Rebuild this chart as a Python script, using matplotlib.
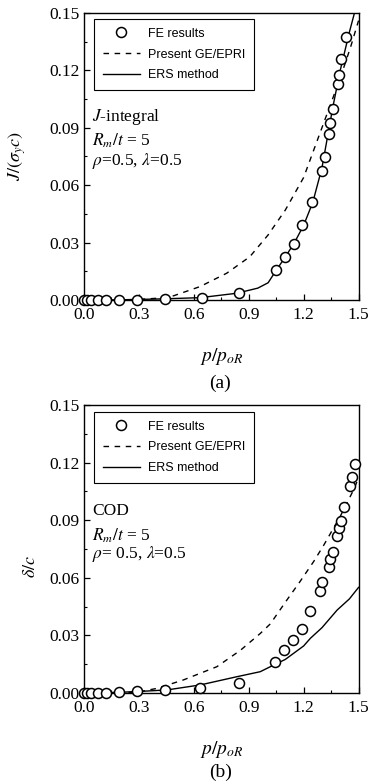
import matplotlib
matplotlib.use("Agg")
import matplotlib.pyplot as plt
import matplotlib.ticker as ticker

# --- data ---
# (a) J-integral
j_fe_x = [0.0, 0.017, 0.039, 0.075, 0.122, 0.19, 0.29, 0.44, 0.643, 0.847,
          1.048, 1.097, 1.146, 1.193, 1.248, 1.298, 1.315, 1.338, 1.345, 1.36,
          1.387, 1.396, 1.405, 1.433]
j_fe_y = [0.0, 0.0, 0.0, 0.0, 0.0, 0.0, 0.0001, 0.0003, 0.0008, 0.0035,
          0.0155, 0.0225, 0.0294, 0.039, 0.0512, 0.0676, 0.0746, 0.087, 0.0924, 0.100,
          0.1127, 0.1176, 0.126, 0.1377]

j_gep_x = [0.0, 0.2, 0.3, 0.4, 0.49, 0.634, 0.78, 0.906, 1.006, 1.1, 1.2,
           1.3, 1.4, 1.456, 1.5]
j_gep_y = [0.0, 0.0, 0.0003, 0.0009, 0.0022, 0.007, 0.014, 0.0226, 0.034, 0.047, 0.064,
           0.090, 0.116, 0.132, 0.146]

j_ers_x = [0.0, 0.2, 0.4, 0.634, 0.834, 0.95, 1.006, 1.05, 1.1, 1.15, 1.2,
           1.25, 1.3, 1.33, 1.36, 1.40, 1.45, 1.5]
j_ers_y = [0.0, 0.0001, 0.0005, 0.0012, 0.0035, 0.0062, 0.009, 0.0155, 0.0225, 0.030, 0.039,
           0.051, 0.069, 0.085, 0.101, 0.120, 0.140, 0.158]

# (b) COD
d_fe_x = [0.0, 0.017, 0.039, 0.075, 0.12, 0.19, 0.288, 0.44, 0.635, 0.845,
          1.043, 1.092, 1.14, 1.189, 1.236, 1.287, 1.302, 1.337, 1.346, 1.361,
          1.383, 1.392, 1.405, 1.423, 1.456, 1.465, 1.483]
d_fe_y = [0.0, 0.0, 0.0, 0.0, 0.0001, 0.0007, 0.001, 0.0016, 0.0024, 0.0054,
          0.0163, 0.0222, 0.0274, 0.0335, 0.0425, 0.053, 0.058, 0.0658, 0.0696, 0.0736,
          0.0818, 0.0858, 0.0898, 0.0967, 0.108, 0.1123, 0.1193]

d_gep_x = [0.0, 0.2, 0.3, 0.398, 0.543, 0.726, 0.854, 0.963, 1.018, 1.109,
           1.18, 1.255, 1.31, 1.4, 1.474, 1.5]
d_gep_y = [0.0, 0.0, 0.0006, 0.0024, 0.0068, 0.0137, 0.0222, 0.031, 0.036, 0.0485,
           0.058, 0.0685, 0.077, 0.092, 0.106, 0.112]

d_ers_x = [0.0, 0.2, 0.3, 0.453, 0.635, 0.836, 0.963, 1.018, 1.1, 1.2, 1.237,
           1.3, 1.383, 1.45, 1.5]
d_ers_y = [0.0, 0.0004, 0.0008, 0.0016, 0.0042, 0.0085, 0.0111, 0.0137, 0.0175, 0.0245, 0.0285,
           0.034, 0.0432, 0.049, 0.055]

x_ticks = [0.0, 0.3, 0.6, 0.9, 1.2, 1.5]
y_ticks = [0.00, 0.03, 0.06, 0.09, 0.12, 0.15]

SERIF = "Liberation Serif"
SANS = "Liberation Sans"
plt.rcParams.update({
    "font.family": SERIF,
    "mathtext.fontset": "stix",
    "xtick.direction": "in",
    "ytick.direction": "in",
    "axes.linewidth": 1.0,
})

fig = plt.figure(figsize=(3.71, 7.82), dpi=100)
ax1 = fig.add_axes([0.2264, 0.6164, 0.740, 0.367])
ax2 = fig.add_axes([0.2264, 0.1138, 0.740, 0.3683])


def draw(ax, fe_x, fe_y, gep_x, gep_y, ers_x, ers_y, ylabel, ylab_xy, notes, note_y, leg_top):
    ax.plot(fe_x, fe_y, linestyle="none", marker="o", markersize=7.2,
            markerfacecolor="white", markeredgecolor="black", markeredgewidth=1.1,
            clip_on=False, zorder=4, label="FE results")
    ax.plot(gep_x, gep_y, color="black", linestyle=(0, (4, 4)), linewidth=1.0,
            label="Present GE/EPRI")
    ax.plot(ers_x, ers_y, color="black", linewidth=1.0, label="ERS method")

    ax.set_xlim(0.0, 1.5)
    ax.set_ylim(0.0, 0.15)
    ax.set_xticks(x_ticks)
    ax.set_yticks(y_ticks)
    ax.xaxis.set_major_formatter(ticker.FormatStrFormatter("%.1f"))
    ax.yaxis.set_major_formatter(ticker.FormatStrFormatter("%.2f"))
    ax.xaxis.set_minor_locator(ticker.AutoMinorLocator(2))
    ax.yaxis.set_minor_locator(ticker.AutoMinorLocator(2))
    ax.tick_params(which="major", length=4, width=0.9, labelsize=12.5, pad=3)
    ax.tick_params(axis="x", which="major", pad=5)
    ax.tick_params(which="minor", length=2, width=0.8)

    ax.set_xlabel(r"$p/p_{oR}$", fontsize=14)
    ax.xaxis.set_label_coords(0.5, -0.16)
    ax.set_ylabel(ylabel, fontsize=13)
    ax.yaxis.set_label_coords(*ylab_xy)

    leg = ax.legend(loc="upper left", bbox_to_anchor=(0.036, leg_top), borderaxespad=0,
                    frameon=True, fancybox=False, edgecolor="black", framealpha=1,
                    prop={"family": SANS, "size": 9}, handlelength=3.0,
                    handletextpad=0.6, labelspacing=0.7, borderpad=0.7)
    leg.get_frame().set_linewidth(0.8)

    for txt, yy in zip(notes, note_y):
        ax.text(0.03, yy, txt, transform=ax.transAxes, fontsize=12.5, va="center", ha="left")


draw(ax1, j_fe_x, j_fe_y, j_gep_x, j_gep_y, j_ers_x, j_ers_y,
     r"$J/(\sigma_y c)$", (-0.205, 0.5),
     [r"$J$-integral", r"$R_m/t$ = 5", r"$\rho$=0.5, $\lambda$=0.5"],
     [0.638, 0.553, 0.484], 0.979)

draw(ax2, d_fe_x, d_fe_y, d_gep_x, d_gep_y, d_ers_x, d_ers_y,
     r"$\delta/c$", (-0.165, 0.44),
     ["COD", r"$R_m/t$ = 5", r"$\rho$= 0.5, $\lambda$=0.5"],
     [0.632, 0.545, 0.483], 0.976)

fig.text(0.594, 0.510, "(a)", fontsize=14, ha="center", va="center")
fig.text(0.594, 0.012, "(b)", fontsize=14, ha="center", va="center")

fig.savefig("out.png", dpi=100, facecolor="white")
